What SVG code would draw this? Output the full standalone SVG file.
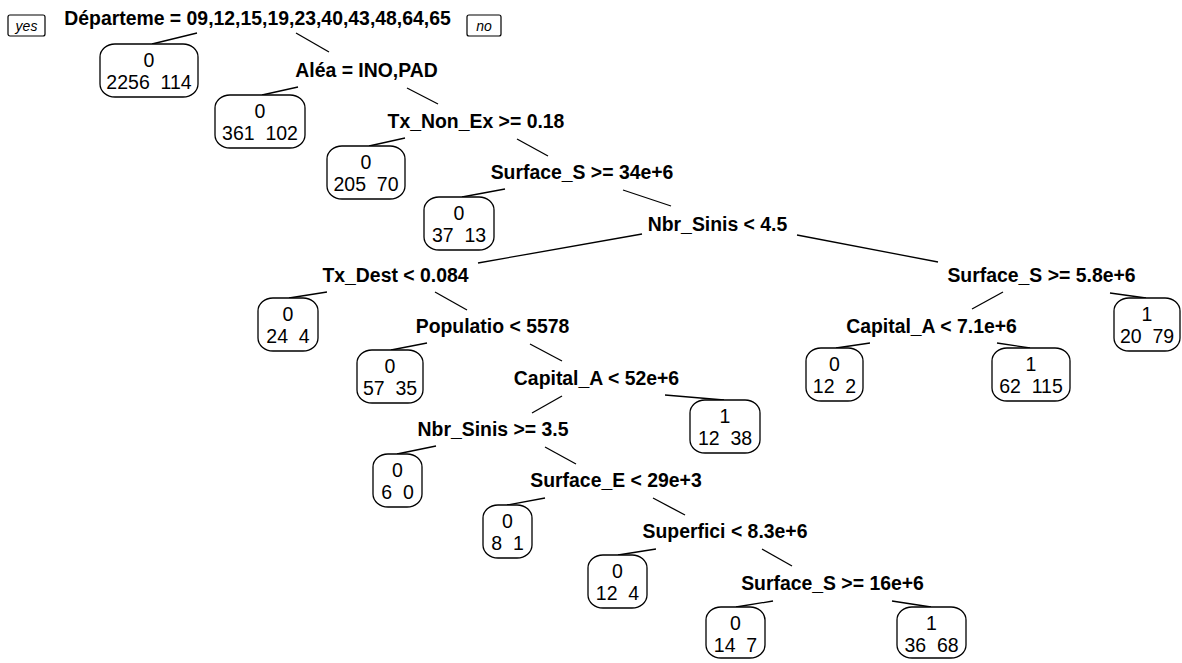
<svg xmlns="http://www.w3.org/2000/svg" width="1182" height="663" viewBox="0 0 1182 663">
<style>
.split{font-family:"Liberation Sans",Arial,sans-serif;font-weight:bold;font-size:19.4px;fill:#000;text-anchor:middle}
.leaf rect{fill:#fff;stroke:#000;stroke-width:1.3}
.leaf text{font-family:"Liberation Sans",Arial,sans-serif;font-size:19.5px;fill:#000;text-anchor:middle;white-space:pre}
.yn rect{fill:#fff;stroke:#000;stroke-width:1.2}
.yn text{font-family:"Liberation Sans",Arial,sans-serif;font-style:italic;font-size:14px;fill:#000;text-anchor:middle}
#connectors line{stroke:#000;stroke-width:1.3;fill:none}
</style>
<rect width="1182" height="663" fill="#fff"/>
<g id="connectors">
<line x1="197" y1="33" x2="152" y2="44"/>
<line x1="296" y1="33" x2="329" y2="52"/>
<line x1="298" y1="87" x2="262" y2="95"/>
<line x1="407" y1="88" x2="438" y2="104"/>
<line x1="405" y1="138" x2="369" y2="146"/>
<line x1="517" y1="139" x2="548" y2="156"/>
<line x1="505" y1="189" x2="462" y2="197"/>
<line x1="623" y1="190" x2="671" y2="206"/>
<line x1="642" y1="234" x2="478" y2="263"/>
<line x1="797" y1="235" x2="938" y2="262"/>
<line x1="327" y1="292" x2="289" y2="298"/>
<line x1="435" y1="292" x2="467" y2="310"/>
<line x1="1003" y1="292" x2="972" y2="309"/>
<line x1="1110" y1="293" x2="1146" y2="298"/>
<line x1="427" y1="343" x2="391" y2="350"/>
<line x1="530" y1="344" x2="562" y2="361"/>
<line x1="870" y1="343" x2="836" y2="348"/>
<line x1="997" y1="343" x2="1030" y2="348"/>
<line x1="562" y1="396" x2="532" y2="413"/>
<line x1="665" y1="395" x2="724" y2="400"/>
<line x1="436" y1="446" x2="397" y2="454"/>
<line x1="545" y1="447" x2="576" y2="464"/>
<line x1="545" y1="498" x2="507" y2="505"/>
<line x1="653" y1="498" x2="685" y2="515"/>
<line x1="656" y1="549" x2="618" y2="555"/>
<line x1="762" y1="549" x2="792" y2="566"/>
<line x1="773" y1="601" x2="736" y2="607"/>
<line x1="892" y1="601" x2="931" y2="607"/>
</g>
<g id="yes" class="yn"><rect x="8" y="15" width="37" height="21" rx="2"/><text x="26.5" y="31">yes</text></g>
<g id="no" class="yn"><rect x="467" y="15" width="34" height="21" rx="2"/><text x="484" y="31">no</text></g>
<g id="n1"><text class="split" x="257.5" y="25">Départeme = 09,12,15,19,23,40,43,48,64,65</text></g>
<g id="n2"><text class="split" x="366.5" y="77">Aléa = INO,PAD</text></g>
<g id="n3"><text class="split" x="476" y="128">Tx_Non_Ex &gt;= 0.18</text></g>
<g id="n4"><text class="split" x="582" y="179">Surface_S &gt;= 34e+6</text></g>
<g id="n5"><text class="split" x="717.5" y="231">Nbr_Sinis &lt; 4.5</text></g>
<g id="n6"><text class="split" x="395.5" y="282">Tx_Dest &lt; 0.084</text></g>
<g id="n7"><text class="split" x="1041.5" y="282">Surface_S &gt;= 5.8e+6</text></g>
<g id="n8"><text class="split" x="492.5" y="333">Populatio &lt; 5578</text></g>
<g id="n9"><text class="split" x="931.5" y="333">Capital_A &lt; 7.1e+6</text></g>
<g id="n10"><text class="split" x="596.5" y="385">Capital_A &lt; 52e+6</text></g>
<g id="n11"><text class="split" x="493" y="436">Nbr_Sinis &gt;= 3.5</text></g>
<g id="n12"><text class="split" x="616" y="487">Surface_E &lt; 29e+3</text></g>
<g id="n13"><text class="split" x="725" y="538">Superfici &lt; 8.3e+6</text></g>
<g id="n14"><text class="split" x="832.5" y="590">Surface_S &gt;= 16e+6</text></g>
<g id="L1" class="leaf"><rect x="100" y="44" width="98" height="53" rx="15" ry="13"/><text x="149" y="67">0</text><text x="149" y="89" xml:space="preserve">2256  114</text></g>
<g id="L2" class="leaf"><rect x="215" y="95" width="90" height="53" rx="15" ry="13"/><text x="260" y="118">0</text><text x="260" y="140" xml:space="preserve">361  102</text></g>
<g id="L3" class="leaf"><rect x="327" y="146" width="78" height="53" rx="15" ry="13"/><text x="366" y="169">0</text><text x="366" y="191" xml:space="preserve">205  70</text></g>
<g id="L4" class="leaf"><rect x="424" y="197" width="70" height="53" rx="15" ry="13"/><text x="459" y="220">0</text><text x="459" y="242" xml:space="preserve">37  13</text></g>
<g id="L5" class="leaf"><rect x="258" y="298" width="60" height="53" rx="15" ry="13"/><text x="288" y="321">0</text><text x="288" y="343" xml:space="preserve">24  4</text></g>
<g id="L6" class="leaf"><rect x="357" y="350" width="66" height="53" rx="15" ry="13"/><text x="390" y="373">0</text><text x="390" y="395" xml:space="preserve">57  35</text></g>
<g id="L7" class="leaf"><rect x="690" y="400" width="70" height="53" rx="15" ry="13"/><text x="725" y="423">1</text><text x="725" y="445" xml:space="preserve">12  38</text></g>
<g id="L8" class="leaf"><rect x="373" y="454" width="49" height="53" rx="15" ry="13"/><text x="397.5" y="477">0</text><text x="397.5" y="499" xml:space="preserve">6  0</text></g>
<g id="L9" class="leaf"><rect x="483" y="505" width="49" height="53" rx="15" ry="13"/><text x="507.5" y="528">0</text><text x="507.5" y="550" xml:space="preserve">8  1</text></g>
<g id="L10" class="leaf"><rect x="588" y="555" width="59" height="53" rx="15" ry="13"/><text x="617.5" y="578">0</text><text x="617.5" y="600" xml:space="preserve">12  4</text></g>
<g id="L11" class="leaf"><rect x="706" y="607" width="59" height="51" rx="15" ry="13"/><text x="735.5" y="630">0</text><text x="735.5" y="652" xml:space="preserve">14  7</text></g>
<g id="L12" class="leaf"><rect x="897" y="607" width="69" height="51" rx="15" ry="13"/><text x="931.5" y="630">1</text><text x="931.5" y="652" xml:space="preserve">36  68</text></g>
<g id="L13" class="leaf"><rect x="1114" y="298" width="66" height="53" rx="15" ry="13"/><text x="1147" y="321">1</text><text x="1147" y="343" xml:space="preserve">20  79</text></g>
<g id="L14" class="leaf"><rect x="806" y="348" width="57" height="53" rx="15" ry="13"/><text x="834.5" y="371">0</text><text x="834.5" y="393" xml:space="preserve">12  2</text></g>
<g id="L15" class="leaf"><rect x="992" y="348" width="78" height="53" rx="15" ry="13"/><text x="1031" y="371">1</text><text x="1031" y="393" xml:space="preserve">62  115</text></g>
</svg>
